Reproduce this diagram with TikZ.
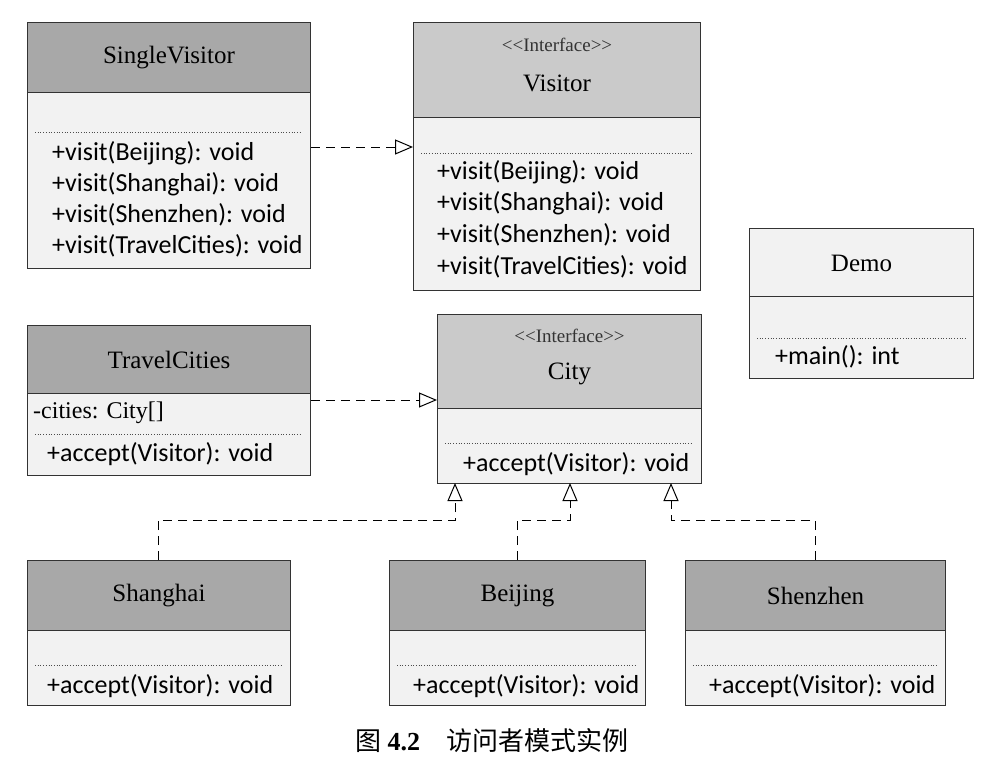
\documentclass[tikz,border=0pt]{standalone}
\usepackage{fontspec}
\setmainfont{Liberation Serif}
\newfontfamily\mfont{Carlito}
\newfontfamily\cjk{Noto Sans CJK SC}
\usetikzlibrary{arrows.meta}
\definecolor{hdark}{HTML}{A8A8A8}
\definecolor{hlight}{HTML}{CACACA}
\definecolor{bodyc}{HTML}{F2F2F2}
\tikzset{
  x=1pt,y=-1pt,
  frame/.style={draw=black!80,line width=1pt,fill=bodyc,anchor=north west,inner sep=0pt},
  hdr/.style={draw=black!80,line width=1pt,anchor=north west,inner sep=0pt},
  title/.style={font=\fontsize{25}{28}\selectfont},
  stereo/.style={font=\fontsize{19}{21}\selectfont,text=black!80},
  meth/.style={font=\mfont\fontsize{26}{29}\selectfont,anchor=west,inner sep=0pt},
  dots/.style={dotted,line width=0.7pt,black!70},
  realize/.style={dashed,dash pattern=on 9pt off 6pt,line width=1pt,-{Triangle[open,length=18pt,width=15pt,line width=1pt]}},
}
\newcommand\umlbox[7]{%
  \node[frame,minimum width=#4-#2,minimum height=#5-#3] (#1) at (#2,#3) {};
  \node[hdr,fill=#7,minimum width=#4-#2,minimum height=#6-#3] (#1h) at (#2,#3) {};
}
\newcommand\ster{<\kern0pt<Interface>\kern0pt>}
\begin{document}
\begin{tikzpicture}
\useasboundingbox[fill=white] (0,0) rectangle (984,772);
\umlbox{sv}{27}{22}{310}{268}{92}{hdark}
\node[title] at (sv.north |- 0,58) {SingleVisitor};
\draw[dots] (35,132) -- (302,132);
\node[meth] at (52,153) {+visit(Beijing): void};
\node[meth] at (52,184) {+visit(Shanghai): void};
\node[meth] at (52,215) {+visit(Shenzhen): void};
\node[meth] at (52,246) {+visit(TravelCities): void};
\umlbox{vis}{413}{22}{700}{290}{117}{hlight}
\node[stereo] at (vis.north |- 0,45) {\ster};
\node[title] at (vis.north |- 0,83) {Visitor};
\draw[dots] (421,153) -- (692,153);
\node[meth] at (437,172) {+visit(Beijing): void};
\node[meth] at (437,203) {+visit(Shanghai): void};
\node[meth] at (437,235) {+visit(Shenzhen): void};
\node[meth] at (437,267) {+visit(TravelCities): void};
\umlbox{demo}{749}{228}{973}{378}{296}{bodyc}
\node[title] at (demo.north |- 0,263) {Demo};
\draw[dots] (757,338) -- (965,338);
\node[meth] at (775,357) {+main(): int};
\umlbox{tc}{27}{325}{310}{475}{393}{hdark}
\node[title] at (tc.north |- 0,360) {TravelCities};
\node[meth,font=\fontsize{24}{27}\selectfont] at (33,413) {-cities: City[]};
\draw[dots] (35,434) -- (302,434);
\node[meth] at (47,454) {+accept(Visitor): void};
\umlbox{city}{437}{314}{701}{483}{408}{hlight}
\node[stereo] at (city.north |- 0,336) {\ster};
\node[title] at (city.north |- 0,374) {City};
\draw[dots] (445,443) -- (693,443);
\node[meth] at (463,464) {+accept(Visitor): void};
\umlbox{sh}{27}{560}{290}{705}{630}{hdark}
\node[title] at (sh.north |- 0,596) {Shanghai};
\draw[dots] (35,665) -- (282,665);
\node[meth] at (47,686) {+accept(Visitor): void};
\umlbox{bj}{389}{560}{645}{705}{630}{hdark}
\node[title] at (bj.north |- 0,596) {Beijing};
\draw[dots] (397,665) -- (637,665);
\node[meth] at (413,686) {+accept(Visitor): void};
\umlbox{sz}{685}{560}{945}{705}{630}{hdark}
\node[title] at (sz.north |- 0,596) {Shenzhen};
\draw[dots] (693,665) -- (937,665);
\node[meth] at (709,686) {+accept(Visitor): void};
\draw[realize] (sv.east |- 0,147) -- (vis.west |- 0,147);
\draw[realize] (tc.east |- 0,400) -- (city.west |- 0,400);
\coordinate (c1) at (455,483);
\coordinate (c2) at (570,483);
\coordinate (c3) at (671,483);
\draw[realize] (sh.north -| 158,0) -- (158,520) -- (455,520) -- (c1);
\draw[realize] (bj.north -| 517,0) -- (517,520) -- (570,520) -- (c2);
\draw[realize] (sz.north -| 815,0) -- (815,520) -- (671,520) -- (c3);
\node (cap) at (492,741) {\cjk\fontsize{26}{30}\selectfont 图 \textbf{\fontspec{Liberation Serif}4.2}\hspace{1em}访问者模式实例};
\end{tikzpicture}
\end{document}
